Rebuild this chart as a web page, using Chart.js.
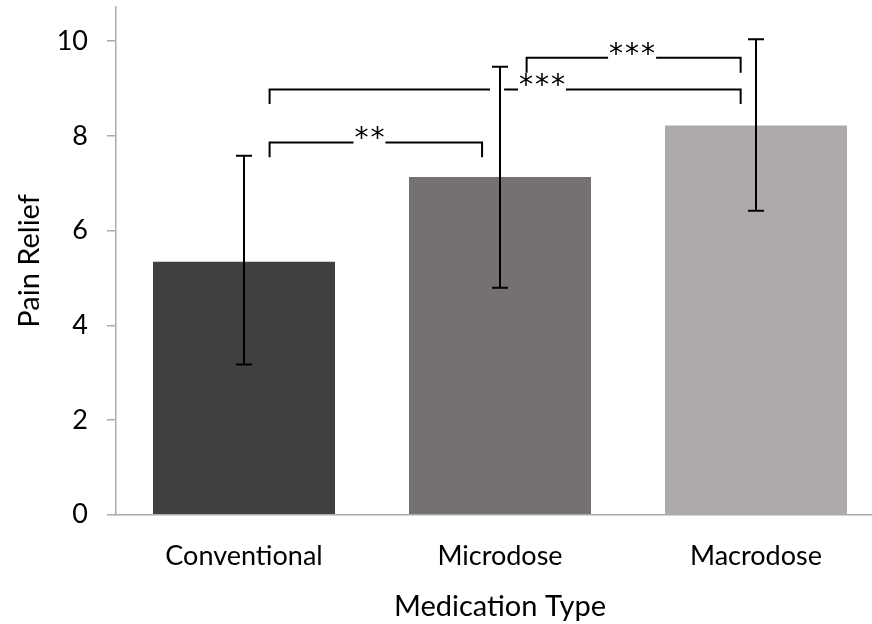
<!DOCTYPE html>
<html>
<head>
<meta charset="utf-8">
<script src="https://cdn.jsdelivr.net/npm/chart.js@4.4.1/dist/chart.umd.min.js"></script>
<style>
  html, body { margin: 0; padding: 0; background: #fff; overflow: hidden; }
  #wrap { width: 872px; height: 624px; overflow: hidden; position: relative; }
  #box { width: 900px; height: 624px; position: absolute; left: 0; top: 0; }
</style>
</head>
<body>
<div id="wrap"><div id="box"><canvas id="c"></canvas></div></div>
<script>
// ---- data ----
const categories = ['Conventional', 'Microdose', 'Macrodose'];
const meanRelief = [5.34, 7.13, 8.22];
const errLow = [3.17, 4.79, 6.42];
const errHigh = [7.58, 9.46, 10.04];
const yTickValues = [0, 2, 4, 6, 8, 10];
const sigLabels = ['**', '***', '***'];
const sigPairs = [[0, 1], [0, 2], [1, 2]];
const sigLineValues = [7.86, 8.98, 9.65];
const sigLegValues = [7.55, 8.67, 9.33];

// ---- styling / annotation placement (category-index units) ----
const barColors = ['#404040', '#767171', '#AEAAAA'];
const bracketGeom = [
  { from: 0.10, to: 0.93, labelAt: 0.49, gaps: [] },
  { from: 0.10, to: 1.94, labelAt: 1.164, gaps: [[0.961, 1.016]] },
  { from: 1.104, to: 1.94, labelAt: 1.516, gaps: [] }
];
const axisGrey = '#ababab';
const FONT = 'Lato, "Open Sans", sans-serif';

const errorBarPlugin = {
  id: 'errorBars',
  afterDatasetsDraw(chart) {
    const ctx = chart.ctx;
    const y = chart.scales.y;
    const meta = chart.getDatasetMeta(0);
    ctx.save();
    ctx.strokeStyle = '#000';
    ctx.lineWidth = 2;
    ctx.lineCap = 'butt';
    meta.data.forEach((bar, i) => {
      const x = bar.x;
      const yl = y.getPixelForValue(errLow[i]);
      const yh = y.getPixelForValue(errHigh[i]);
      ctx.beginPath();
      ctx.moveTo(x, yl); ctx.lineTo(x, yh);
      ctx.moveTo(x - 8, yh); ctx.lineTo(x + 8, yh);
      ctx.moveTo(x - 8, yl); ctx.lineTo(x + 8, yl);
      ctx.stroke();
    });
    ctx.restore();
  }
};

const bracketPlugin = {
  id: 'brackets',
  afterDatasetsDraw(chart) {
    const ctx = chart.ctx;
    const xs = chart.scales.x, ys = chart.scales.y;
    ctx.save();
    ctx.strokeStyle = '#000';
    ctx.fillStyle = '#000';
    ctx.lineWidth = 2;
    ctx.lineCap = 'butt';
    ctx.lineJoin = 'miter';
    ctx.font = '28px "DejaVu Sans", sans-serif';
    const LS = 2;
    try { ctx.letterSpacing = LS + 'px'; } catch (e) {}
    sigPairs.forEach((pair, i) => {
      const g = bracketGeom[i];
      const x1 = xs.getPixelForValue(g.from);
      const x2 = xs.getPixelForValue(g.to);
      const yl = ys.getPixelForValue(sigLineValues[i]);
      const yb = ys.getPixelForValue(sigLegValues[i]);
      const label = sigLabels[i];
      const m = ctx.measureText(label);
      const w = m.width - (ctx.letterSpacing ? LS : 0);
      const cx = xs.getPixelForValue(g.labelAt);
      const tx0 = cx - w / 2 - 1, tx1 = cx + w / 2 + 1;
      const cuts = [[tx0, tx1]].concat(g.gaps.map(p => [xs.getPixelForValue(p[0]), xs.getPixelForValue(p[1])]));
      cuts.sort((a, b) => a[0] - b[0]);
      ctx.beginPath();
      ctx.moveTo(x1, yb);
      ctx.lineTo(x1, yl);
      cuts.forEach(c => {
        ctx.lineTo(c[0], yl);
        ctx.moveTo(c[1], yl);
      });
      ctx.lineTo(x2, yl);
      ctx.lineTo(x2, yb);
      ctx.stroke();
      ctx.textAlign = 'left';
      ctx.textBaseline = 'alphabetic';
      const desc = (m.actualBoundingBoxDescent !== undefined) ? m.actualBoundingBoxDescent : -10;
      ctx.fillText(label, cx - w / 2, yl - 2 - desc);
    });
    ctx.restore();
  }
};

new Chart(document.getElementById('c'), {
  type: 'bar',
  data: {
    labels: categories,
    datasets: [{
      data: meanRelief,
      backgroundColor: barColors,
      borderWidth: 0,
      categoryPercentage: 1,
      barPercentage: 0.711
    }]
  },
  options: {
    responsive: true,
    maintainAspectRatio: false,
    animation: false,
    events: [],
    layout: { padding: { top: 7, right: 16, bottom: 0, left: 0 } },
    plugins: { legend: { display: false }, tooltip: { enabled: false } },
    scales: {
      x: {
        grid: { display: false, drawTicks: false },
        border: { display: true, color: axisGrey, width: 1.5 },
        ticks: { color: '#000', font: { family: FONT, size: 27 }, padding: 25, maxRotation: 0, autoSkip: false },
        title: { display: true, text: 'Medication Type', color: '#000', font: { family: FONT, size: 29 }, padding: { top: 0, bottom: 0 } },
        afterFit(s) { s.height = 109.3; s.paddingLeft = 0; s.paddingRight = 0; }
      },
      y: {
        min: 0,
        max: 10.72,
        grid: { drawOnChartArea: false, drawTicks: true, tickLength: 9, color: axisGrey, lineWidth: 1.5 },
        border: { display: true, color: axisGrey, width: 1.5 },
        ticks: { color: '#000', font: { family: FONT, size: 27 }, padding: 19, stepSize: 2 },
        afterBuildTicks(s) { s.ticks = yTickValues.map(v => ({ value: v })); },
        title: { display: true, text: 'Pain Relief', color: '#000', font: { family: FONT, size: 29 }, padding: { top: 12, bottom: 0 } },
        afterFit(s) { s.width = 116; s.paddingTop = 0; s.paddingBottom = 0; }
      }
    }
  },
  plugins: [errorBarPlugin, bracketPlugin]
});
</script>
</body>
</html>
